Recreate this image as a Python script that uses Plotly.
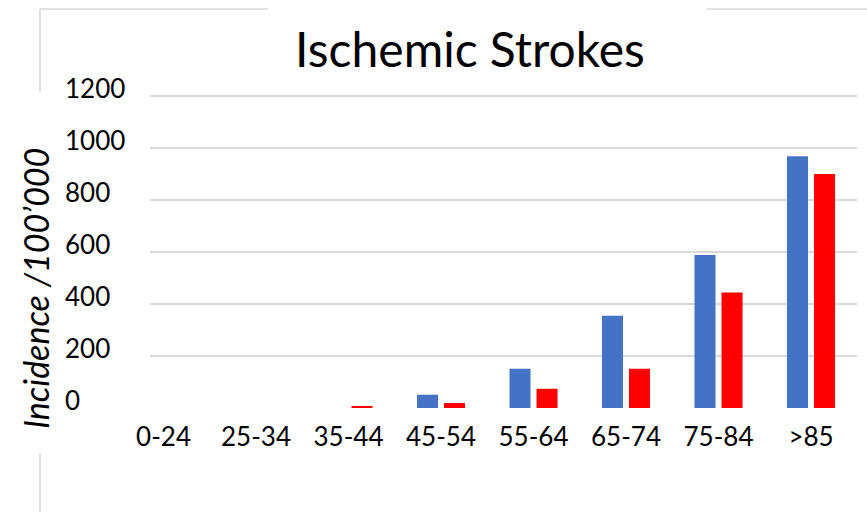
import plotly.graph_objects as go

categories = ["0-24", "25-34", "35-44", "45-54", "55-64", "65-74", "75-84", ">85"]
blue_values = [0, 0, 0, 51, 151, 355, 588, 968]
red_values = [0, 0, 8, 19, 74, 151, 444, 900]
y_tick_values = [0, 200, 400, 600, 800, 1000, 1200]
y_tick_labels = ["0", "200", "400", "600", "800", "1000", "1200"]
title_text = "Ischemic Strokes"
y_title_text = "Incidence /100\u2019000"

W, H = 867, 512
ML, MR, MT, MB = 150, 10, 92, 104
PW = W - ML - MR
PH = H - MT - MB
Y_TOP = 1200 * PH / 312.0

def px_x(px):
    return (px - ML) / PW

def px_y(py):
    return (H - MB - py) / PH

FONT = "Lato, Carlito, Calibri, 'Open Sans', sans-serif"

fig = go.Figure()
fig.add_trace(go.Bar(x=categories, y=blue_values, name="Series 1",
                     marker=dict(color="#4472C4", line=dict(width=0))))
fig.add_trace(go.Bar(x=categories, y=red_values, name="Series 2",
                     marker=dict(color="#FF0000", line=dict(width=0))))

annotations = []
for v, lab in zip(y_tick_values, y_tick_labels):
    annotations.append(dict(x=px_x(63), xref="paper", y=v, yref="y", yshift=8,
                            text=lab, showarrow=False, xanchor="left", yanchor="middle",
                            font=dict(family=FONT, size=26, color="#000000")))
annotations.append(dict(x=px_x(35), xref="paper", y=px_y(289), yref="paper",
                        text="<i>" + y_title_text + "</i>", textangle=-90, showarrow=False,
                        xanchor="center", yanchor="middle",
                        font=dict(family=FONT, size=34, color="#000000")))

line_style = dict(color="#d9d9d9", width=1.5)
shapes = [
    dict(type="line", xref="paper", yref="paper", x0=px_x(40), x1=px_x(268), y0=px_y(9), y1=px_y(9), line=line_style),
    dict(type="line", xref="paper", yref="paper", x0=px_x(40), x1=px_x(40), y0=px_y(9), y1=px_y(92), line=line_style),
    dict(type="line", xref="paper", yref="paper", x0=px_x(707), x1=px_x(867), y0=px_y(9), y1=px_y(9), line=line_style),
    dict(type="line", xref="paper", yref="paper", x0=px_x(40), x1=px_x(40), y0=px_y(453), y1=px_y(512), line=line_style),
]

fig.update_layout(
    width=W, height=H,
    margin=dict(l=ML, r=MR, t=MT, b=MB, autoexpand=False),
    paper_bgcolor="white", plot_bgcolor="white",
    barmode="group", bargap=0.416, bargroupgap=0.222,
    showlegend=False,
    title=dict(text=title_text, xref="paper", x=px_x(470), xanchor="center",
               yref="container", y=1 - 50 / H, yanchor="middle",
               font=dict(family=FONT, size=48, color="#000000")),
    xaxis=dict(type="category", range=[-0.146, 7.497], showgrid=False, showline=False,
               zeroline=False, ticks="", tickfont=dict(family=FONT, size=26, color="#000000"),
               ticklabelstandoff=11, fixedrange=True),
    yaxis=dict(range=[0, Y_TOP], tickvals=y_tick_values[1:], showticklabels=False,
               showgrid=True, gridcolor="#d9d9d9", gridwidth=2, zeroline=False,
               showline=False, ticks="", fixedrange=True),
    annotations=annotations,
    shapes=shapes,
)

fig.write_html("out.html", config={"displayModeBar": False},
               post_script="document.body.style.margin='0';")
